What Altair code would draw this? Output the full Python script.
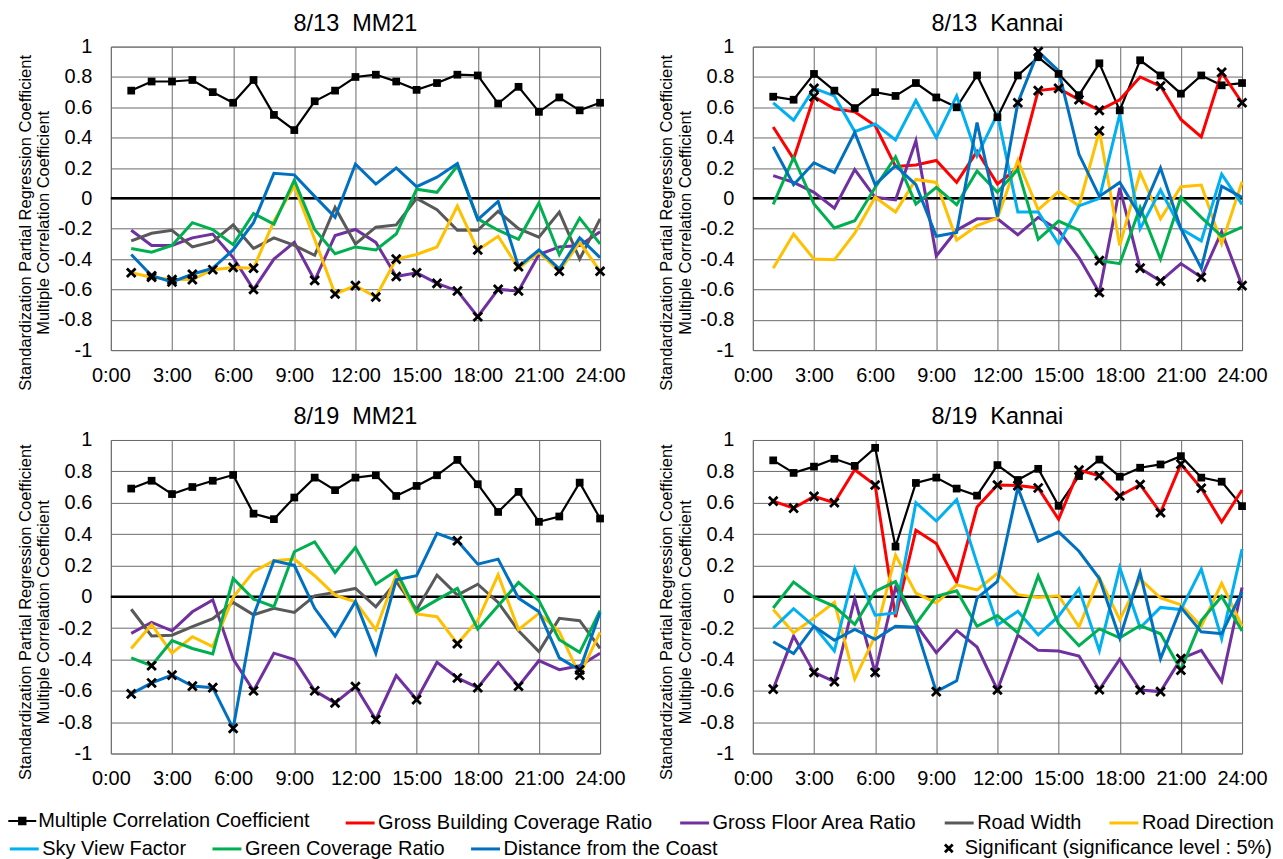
import altair as alt
import pandas as pd

FONT = "Liberation Sans"

HOURS = list(range(1, 25))
X_TICKS = [0, 3, 6, 9, 12, 15, 18, 21, 24]
Y_TICKS = [-1, -0.8, -0.6, -0.4, -0.2, 0, 0.2, 0.4, 0.6, 0.8, 1]

SERIES = ["Multiple Correlation Coefficient", "Gross Building Coverage Ratio",
          "Gross Floor Area Ratio", "Road Width", "Road Direction",
          "Sky View Factor", "Green Coverage Ratio", "Distance from the Coast"]
COLORS = ["#000000", "#FF0000", "#7030A0", "#595959", "#FFC000",
          "#00B0F0", "#00B050", "#0070C0"]
SIG_LABEL = "Significant (significance level : 5%)"

PANEL_TITLES = ["8/13\u00a0\u00a0MM21", "8/13\u00a0\u00a0Kannai",
                "8/19\u00a0\u00a0MM21", "8/19\u00a0\u00a0Kannai"]

# ---------------- 8/13 MM21 ----------------
P1_MCC = [0.71, 0.77, 0.77, 0.78, 0.70, 0.63, 0.78, 0.55, 0.45, 0.64, 0.71, 0.80,
          0.815, 0.77, 0.715, 0.76, 0.815, 0.81, 0.625, 0.735, 0.57, 0.665, 0.58, 0.63]
P1_GFAR = [-0.21, -0.31, -0.31, -0.26, -0.235, -0.39, -0.60, -0.40, -0.29, -0.54, -0.245, -0.205,
           -0.29, -0.515, -0.49, -0.56, -0.61, -0.78, -0.60, -0.61, -0.37, -0.32, -0.31, -0.22]
P1_RW = [-0.28, -0.23, -0.21, -0.32, -0.285, -0.175, -0.33, -0.26, -0.31, -0.375, -0.06, -0.30,
         -0.19, -0.175, 0.0, -0.075, -0.21, -0.21, -0.085, -0.20, -0.255, -0.09, -0.40, -0.135]
P1_RD = [-0.49, -0.52, -0.535, -0.535, -0.47, -0.455, -0.46, -0.15, 0.083, -0.27, -0.63, -0.575,
         -0.65, -0.40, -0.37, -0.32, -0.05, -0.34, -0.25, -0.46, -0.355, -0.48, -0.29, -0.48]
P1_GCR = [-0.33, -0.355, -0.31, -0.16, -0.205, -0.305, -0.10, -0.17, 0.12, -0.205, -0.365, -0.32,
          -0.34, -0.235, 0.06, 0.04, 0.215, -0.135, -0.21, -0.27, -0.03, -0.37, -0.13, -0.30]
P1_DC = [-0.37, -0.51, -0.55, -0.50, -0.46, -0.34, -0.16, 0.165, 0.155, 0.013, -0.125, 0.226,
         0.094, 0.20, 0.077, 0.14, 0.23, -0.14, -0.02, -0.45, -0.34, -0.465, -0.26, -0.39]
P1_SIG_RD = [1, 2, 3, 4, 5, 6, 7, 11, 12, 13, 14, 18, 22, 24]
P1_SIG_DC = [2, 3, 4, 20]
P1_SIG_GFAR = [7, 10, 14, 15, 16, 17, 18, 19, 20]

# ---------------- 8/13 Kannai ----------------
P2_MCC = [0.67, 0.65, 0.82, 0.71, 0.595, 0.70, 0.675, 0.76, 0.665, 0.60, 0.81, 0.535,
          0.81, 0.93, 0.82, 0.68, 0.89, 0.58, 0.91, 0.81, 0.69, 0.81, 0.745, 0.76]
P2_GBCR = [0.47, 0.26, 0.67, 0.59, 0.57, 0.48, 0.21, 0.22, 0.25, 0.105, 0.31, 0.095,
           0.20, 0.71, 0.725, 0.65, 0.58, 0.65, 0.80, 0.74, 0.52, 0.405, 0.83, 0.63]
P2_GFAR = [0.15, 0.105, 0.04, -0.065, 0.19, 0.007, -0.01, 0.38, -0.38, -0.21, -0.135, -0.135,
           -0.24, -0.125, -0.21, -0.39, -0.62, 0.07, -0.46, -0.545, -0.43, -0.52, -0.22, -0.575]
P2_RD = [-0.46, -0.235, -0.40, -0.405, -0.23, 0.007, -0.09, 0.125, 0.105, -0.275, -0.18, -0.13,
         0.25, -0.075, 0.045, -0.05, 0.445, -0.31, 0.17, -0.135, 0.077, 0.088, -0.30, 0.11]
P2_SVF = [0.63, 0.515, 0.725, 0.675, 0.44, 0.49, 0.385, 0.645, 0.40, 0.675, 0.28, 0.555,
          -0.09, -0.09, -0.30, -0.05, 0.0, 0.555, -0.20, 0.055, -0.20, -0.28, 0.16, -0.04]
P2_GCR = [-0.04, 0.27, -0.037, -0.195, -0.147, 0.072, 0.274, -0.037, 0.072, -0.042, 0.18, 0.04,
          0.19, -0.27, -0.15, -0.21, -0.41, -0.43, -0.06, -0.40, 0.007, -0.125, -0.25, -0.19]
P2_DC = [0.34, 0.09, 0.235, 0.17, 0.435, 0.09, 0.215, 0.09, -0.25, -0.225, 0.50, -0.12,
         0.63, 0.967, 0.84, 0.29, 0.013, 0.105, -0.115, 0.20, -0.20, -0.46, 0.08, 0.007]
P2_SIG_GBCR = [3, 14, 15, 16, 17, 20, 23, 24]
P2_SIG_SVF = [3]
P2_SIG_DC = [13, 14]
P2_SIG_RD = [17]
P2_SIG_GCR = [17]
P2_SIG_GFAR = [17, 19, 20, 22, 24]

# ---------------- 8/19 MM21 ----------------
P3_MCC = [0.69, 0.74, 0.655, 0.70, 0.74, 0.777, 0.53, 0.495, 0.633, 0.76, 0.68, 0.76,
          0.775, 0.643, 0.707, 0.775, 0.873, 0.718, 0.541, 0.669, 0.478, 0.512, 0.728, 0.499]
P3_GFAR = [-0.234, -0.163, -0.217, -0.096, -0.02, -0.397, -0.60, -0.36, -0.40, -0.60, -0.677, -0.573,
           -0.783, -0.503, -0.656, -0.418, -0.518, -0.58, -0.418, -0.571, -0.408, -0.465, -0.44, -0.36]
P3_RW = [-0.08, -0.25, -0.245, -0.19, -0.14, -0.036, -0.115, -0.074, -0.10, 0.006, 0.028, 0.053,
         -0.064, 0.096, -0.083, 0.138, 0.01, 0.08, -0.036, -0.217, -0.35, -0.138, -0.153, -0.33]
P3_RD = [-0.33, -0.178, -0.36, -0.255, -0.318, -0.004, 0.16, 0.23, 0.24, 0.134, 0.01, -0.032,
         -0.21, 0.14, -0.11, -0.127, -0.30, -0.15, 0.14, -0.21, -0.106, -0.223, -0.50, -0.227]
P3_GCR = [-0.39, -0.44, -0.28, -0.33, -0.365, 0.117, -0.015, -0.064, 0.287, 0.35, 0.155, 0.314,
          0.08, 0.166, -0.096, -0.02, 0.053, -0.206, -0.057, 0.091, -0.025, -0.274, -0.355, -0.089]
P3_DC = [-0.62, -0.55, -0.50, -0.57, -0.58, -0.84, -0.12, 0.23, 0.20, -0.074, -0.25, -0.03,
         -0.36, 0.108, 0.134, 0.405, 0.357, 0.208, 0.24, -0.01, -0.095, -0.39, -0.467, -0.10]
P3_SIG_DC = [1, 2, 3, 4, 5, 6, 17, 23]
P3_SIG_GCR = [2]
P3_SIG_GFAR = [7, 10, 11, 12, 13, 15, 17, 18, 20]
P3_SIG_RD = [17, 23]

# ---------------- 8/19 Kannai ----------------
P4_MCC = [0.87, 0.79, 0.83, 0.88, 0.835, 0.95, 0.32, 0.726, 0.76, 0.69, 0.645, 0.84,
          0.745, 0.816, 0.58, 0.77, 0.875, 0.766, 0.823, 0.844, 0.897, 0.76, 0.734, 0.578]
P4_GBCR = [0.61, 0.565, 0.64, 0.60, 0.81, 0.713, -0.13, 0.424, 0.34, 0.093, 0.572, 0.713,
           0.709, 0.694, 0.494, 0.808, 0.772, 0.643, 0.715, 0.536, 0.846, 0.692, 0.477, 0.681]
P4_GFAR = [-0.589, -0.251, -0.483, -0.542, -0.013, -0.483, 0.059, -0.177, -0.357, -0.215, -0.321, -0.595,
           -0.245, -0.342, -0.346, -0.378, -0.593, -0.399, -0.595, -0.605, -0.395, -0.342, -0.54, 0.059]
P4_RD = [-0.082, -0.23, -0.135, -0.036, -0.525, -0.251, 0.266, 0.023, -0.04, 0.076, 0.044, 0.15,
         0.013, -0.004, 0.006, -0.192, 0.122, -0.146, 0.114, -0.008, -0.051, -0.188, 0.086, -0.188]
P4_SVF = [-0.20, -0.076, -0.188, -0.346, 0.18, -0.118, -0.103, 0.60, 0.483, 0.62, 0.213, -0.18,
          -0.093, -0.243, -0.124, 0.05, -0.344, 0.186, -0.198, -0.068, -0.082, 0.177, -0.268, 0.304]
P4_GCR = [-0.072, 0.093, -0.004, -0.061, -0.177, 0.034, 0.097, -0.173, 0.002, 0.038, -0.188, -0.12,
          -0.23, 0.133, -0.173, -0.312, -0.205, -0.262, -0.184, -0.236, -0.468, -0.152, 0.002, -0.219]
P4_DC = [-0.287, -0.363, -0.188, -0.278, -0.209, -0.272, -0.188, -0.194, -0.605, -0.536, -0.008, 0.097,
         0.696, 0.354, 0.414, 0.29, 0.116, -0.264, 0.154, -0.395, -0.068, -0.224, -0.236, 0.032]
P4_SIG_GBCR = [1, 2, 3, 4, 6, 12, 13, 14, 16, 17, 18, 19, 20, 21, 22]
P4_SIG_GFAR = [1, 3, 4, 6, 12, 17, 19, 20, 21]
P4_SIG_DC = [9]
P4_SIG_GCR = [21]

PANELS = [
    ({SERIES[0]: P1_MCC, SERIES[2]: P1_GFAR, SERIES[3]: P1_RW, SERIES[4]: P1_RD,
      SERIES[6]: P1_GCR, SERIES[7]: P1_DC},
     {SERIES[4]: P1_SIG_RD, SERIES[7]: P1_SIG_DC, SERIES[2]: P1_SIG_GFAR}),
    ({SERIES[0]: P2_MCC, SERIES[1]: P2_GBCR, SERIES[2]: P2_GFAR, SERIES[4]: P2_RD,
      SERIES[5]: P2_SVF, SERIES[6]: P2_GCR, SERIES[7]: P2_DC},
     {SERIES[1]: P2_SIG_GBCR, SERIES[5]: P2_SIG_SVF, SERIES[7]: P2_SIG_DC,
      SERIES[4]: P2_SIG_RD, SERIES[6]: P2_SIG_GCR, SERIES[2]: P2_SIG_GFAR}),
    ({SERIES[0]: P3_MCC, SERIES[2]: P3_GFAR, SERIES[3]: P3_RW, SERIES[4]: P3_RD,
      SERIES[6]: P3_GCR, SERIES[7]: P3_DC},
     {SERIES[7]: P3_SIG_DC, SERIES[6]: P3_SIG_GCR, SERIES[2]: P3_SIG_GFAR, SERIES[4]: P3_SIG_RD}),
    ({SERIES[0]: P4_MCC, SERIES[1]: P4_GBCR, SERIES[2]: P4_GFAR, SERIES[4]: P4_RD,
      SERIES[5]: P4_SVF, SERIES[6]: P4_GCR, SERIES[7]: P4_DC},
     {SERIES[1]: P4_SIG_GBCR, SERIES[2]: P4_SIG_GFAR, SERIES[7]: P4_SIG_DC, SERIES[6]: P4_SIG_GCR}),
]

XPATH = "M-1,-1L1,1M-1,1L1,-1"
MCCPATH = "M-1,-0.075L1,-0.075L1,0.075L-1,0.075Z M-0.3,-0.3L0.3,-0.3L0.3,0.3L-0.3,0.3Z"
GRID = "#6a6a6a"
Y_TITLE = ["Standardization Partial Regression Coefficient", "Multiple Correlation Coefficient"]
LABEL_FS = 20

ROW1 = SERIES[1:5]
ROW2 = SERIES[5:8]


def frame(values, sig):
    rows = []
    for s in SERIES:
        if s not in values:
            continue
        for h, v in zip(HOURS, values[s]):
            rows.append({"series": s, "order": SERIES.index(s), "hour": h, "value": v,
                         "sig": 1 if h in sig.get(s, []) else 0})
    return pd.DataFrame(rows)


def legend(x, y, values=None, **kw):
    args = dict(title=None, orient="none", legendX=x, legendY=y, direction="horizontal",
                labelFontSize=LABEL_FS, labelLimit=0, labelOffset=2)
    if values is not None:
        args["values"] = values
    args.update(kw)
    return alt.Legend(**args)


def panel(idx, height, title_shift):
    values, sig = PANELS[idx]
    d = frame(values, sig)
    x = alt.X("hour:Q", scale=alt.Scale(domain=[0, 24], nice=False, zero=False),
              axis=alt.Axis(values=X_TICKS, labelExpr="datum.value + ':00'", title=None,
                            grid=True, gridColor=GRID, ticks=False, domain=False,
                            labelPadding=15, labelFontSize=LABEL_FS, labelFlush=False,
                            labelOverlap=False))
    y = alt.Y("value:Q", scale=alt.Scale(domain=[-1, 1], nice=False, zero=False),
              axis=alt.Axis(values=Y_TICKS, tickCount=11,
                            labelExpr="toString(round(datum.value*10)/10)",
                            title=Y_TITLE, titleFontSize=16.5, titleFontWeight="normal",
                            titlePadding=6, titleY=height / 2 + title_shift,
                            grid=True, gridColor=GRID, ticks=False,
                            domain=False, labelPadding=19, labelFontSize=LABEL_FS,
                            labelOverlap=False, labelFlush=False))
    zero = alt.Chart(pd.DataFrame({"z": [0]})).mark_rule(color="black", strokeWidth=2.5).encode(
        y=alt.datum(0))
    lines = alt.Chart(d).mark_line().encode(
        x=x, y=y,
        color=alt.Color("series:N", scale=alt.Scale(domain=SERIES, range=COLORS),
                        legend=legend(233.7, 761.6, ROW1, symbolType="stroke", symbolSize=841,
                                      symbolStrokeWidth=3, columnPadding=21)),
        strokeWidth=alt.condition(alt.datum.series == SERIES[0], alt.value(2.2), alt.value(3)),
        order="order:Q",
    )
    row2 = alt.Chart(d).transform_filter("false").mark_line().encode(
        x=x, y=y,
        stroke=alt.Stroke("series:N",
                          scale=alt.Scale(domain=ROW2, range=COLORS[5:8]),
                          legend=legend(-102.7, 787.6, None, symbolType="stroke",
                                        symbolSize=841, symbolStrokeWidth=3,
                                        columnPadding=19)))
    mcc_key = alt.Chart(d).transform_filter("false").mark_point(filled=True, opacity=1).encode(
        x=x, y=y,
        fill=alt.Fill("series:N", scale=alt.Scale(domain=[SERIES[0]], range=["black"]),
                      legend=legend(-102.7, 761.6, None, symbolType=MCCPATH,
                                    symbolSize=784, symbolStrokeWidth=0, symbolOpacity=1)))
    squares = alt.Chart(d).transform_filter(alt.datum.series == SERIES[0]).mark_point(
        shape="square", filled=True, size=60, color="black", opacity=1).encode(x=x, y=y)
    marks = alt.Chart(d).transform_filter(alt.datum.sig == 1).transform_calculate(
        key="'" + SIG_LABEL + "'").mark_point(
        filled=False, strokeWidth=2.8, size=75, color="black", opacity=1).encode(
        x=x, y=y,
        shape=alt.Shape("key:N", scale=alt.Scale(domain=[SIG_LABEL], range=[XPATH]),
                        legend=legend(829.3, 793, None, symbolSize=60, symbolStrokeWidth=2.8,
                                      symbolStrokeColor="black", labelOffset=6)))
    return alt.layer(zero, lines, row2, mcc_key, squares, marks).properties(
        width=490, height=height,
        title=alt.TitleParams(PANEL_TITLES[idx], fontSize=23.5, fontWeight="normal", offset=1.5))


chart = alt.concat(panel(0, 304, 24), panel(1, 304, 24), panel(2, 314, 15), panel(3, 314, 15),
                   columns=2, spacing={"row": 90, "column": 153}, bounds="flush").properties(
    padding={"left": 0, "top": 2, "right": 0, "bottom": 0}
).configure_view(stroke="#808080", strokeWidth=1).configure_axis(
    labelFont=FONT, titleFont=FONT, labelColor="black", titleColor="black"
).configure_title(font=FONT, color="black").configure_legend(
    labelFont=FONT, labelColor="black")

chart.save("out.html", embed_options={"renderer": "svg", "actions": False})
